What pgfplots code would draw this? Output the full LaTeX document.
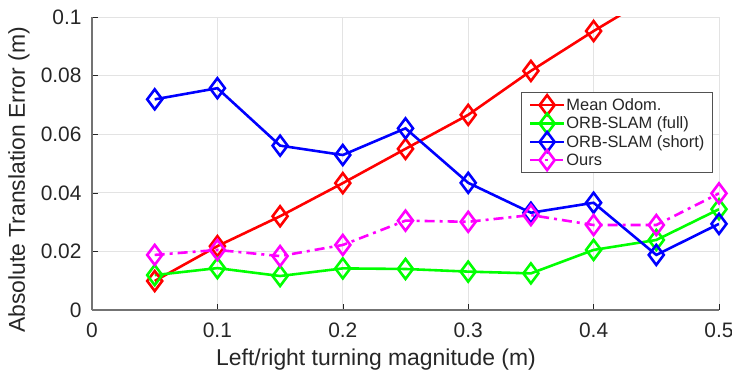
\documentclass[border=0pt]{standalone}
\usepackage{fontspec}
\setmainfont{Liberation Sans}
\usepackage{pgfplots}
\pgfplotsset{compat=1.18}
\definecolor{txt}{rgb}{0.15,0.15,0.15}
\definecolor{axc}{rgb}{0.45,0.45,0.45}
\definecolor{cred}{rgb}{1,0,0}
\definecolor{cgreen}{rgb}{0,1,0}
\definecolor{cblue}{rgb}{0,0,1}
\definecolor{cmag}{rgb}{1,0,1}
\begin{document}
\begin{tikzpicture}
\begin{axis}[
  scale only axis, width=627bp, height=293bp,
  xmin=0, xmax=0.5, ymin=0, ymax=0.1,
  xtick={0,0.1,0.2,0.3,0.4,0.5},
  ytick={0,0.02,0.04,0.06,0.08,0.1},
  axis x line*=bottom, axis y line*=left,
  axis line style={draw=axc, line width=1.3pt, -},
  tick align=inside, major tick length=6bp,
  tick style={draw=txt, line width=0.6pt},
  grid=major, grid style={draw=gray!22, line width=0.7pt},
  scaled ticks=false,
  /pgf/number format/assume math mode=true,
  xticklabel style={/pgf/number format/fixed, yshift=-9bp},
  yticklabel style={/pgf/number format/fixed, /pgf/number format/precision=2, xshift=-7bp},
  tick label style={font=\fontsize{21}{22}\selectfont, text=txt},
  label style={font=\fontsize{23}{25}\selectfont, text=txt},
  xlabel={Left/right turning magnitude (m)},
  ylabel={Absolute Translation Error (m)},
  xlabel style={at={(rel axis cs:0.453,-0.1911)}, anchor=base},
  ylabel style={at={(rel axis cs:-0.1164,0.444)}, anchor=center},
  every axis plot/.append style={line width=2.6pt, mark=diamond, mark size=10bp, mark options={solid}},
  legend style={at={(0.99,0.744)}, anchor=north east, font=\fontsize{16.5}{18}\selectfont, text=txt,
    draw=txt!80, line width=0.8pt, fill=white, inner xsep=7bp, inner ysep=5bp, row sep=3bp,
    nodes={inner sep=1bp}},
  legend cell align=left,
  legend image code/.code={\draw[mark repeat=2,mark phase=2,overlay] plot coordinates {(0bp,0bp) (17bp,0bp) (34bp,0bp)}; \path (0bp,-6bp) (34bp,6bp);},
]
\coordinate (sw) at (rel axis cs:0,0);
\coordinate (ne) at (rel axis cs:1,1);
\addplot[color=cred] coordinates {
(0.05,0.0099) (0.10,0.0218) (0.15,0.0320) (0.20,0.0433) (0.25,0.0550)
(0.30,0.0666) (0.35,0.0816) (0.40,0.0952) (0.45,0.1080)};
\addlegendentry{Mean Odom.}
\addplot[color=cgreen] coordinates {
(0.05,0.0119) (0.10,0.0143) (0.15,0.0116) (0.20,0.0142) (0.25,0.0140)
(0.30,0.0131) (0.35,0.0125) (0.40,0.0205) (0.45,0.0239) (0.50,0.0344)};
\addlegendentry{ORB-SLAM (full)}
\addplot[color=cblue] coordinates {
(0.05,0.0719) (0.10,0.0757) (0.15,0.0561) (0.20,0.0529) (0.25,0.0620)
(0.30,0.0434) (0.35,0.0332) (0.40,0.0366) (0.45,0.0188) (0.50,0.0294)};
\addlegendentry{ORB-SLAM (short)}
\addplot[color=cmag, dash pattern=on 10bp off 5bp on 3bp off 5bp] coordinates {
(0.05,0.0188) (0.10,0.0205) (0.15,0.0184) (0.20,0.0222) (0.25,0.0305)
(0.30,0.0301) (0.35,0.0324) (0.40,0.0290) (0.45,0.0290) (0.50,0.0398)};
\addlegendentry{Ours}
\end{axis}
\pgfresetboundingbox
\path[use as bounding box] ([shift={(-92bp,-60bp)}]sw) rectangle ([shift={(13bp,17bp)}]ne);
\end{tikzpicture}
\end{document}
